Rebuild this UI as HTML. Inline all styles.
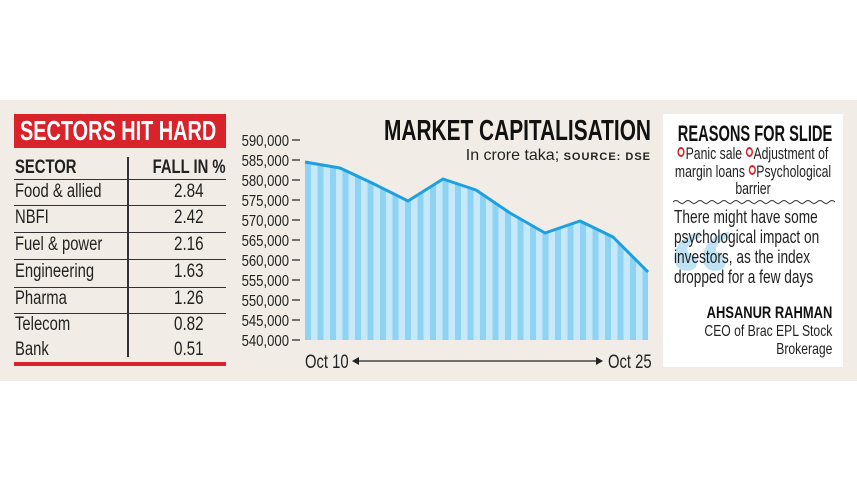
<!DOCTYPE html>
<html><head><meta charset="utf-8"><style>
body{margin:0;width:857px;height:482px;background:#fff;position:relative;overflow:hidden;font-family:"Liberation Sans",sans-serif;}
.a{position:absolute;white-space:nowrap;}
.c{transform:scaleX(.78);transform-origin:0 0;}
.cr{transform:scaleX(.78);transform-origin:100% 0;}
.row{position:absolute;left:14px;width:212px;height:26px;border-top:1.5px solid #333;font-size:19px;color:#222;}
.n{position:absolute;left:160px;top:1px;transform:scaleX(.8);transform-origin:0 0}
.o{display:inline-block;width:6px;height:6px;border:2px solid #d8232a;border-radius:50%;vertical-align:2px;margin-right:1px}
</style></head><body>
<div class="a" style="left:0;top:100px;width:857px;height:281px;background:#f1ede6"></div>
<div class="a" style="left:14px;top:114px;width:212px;height:34px;background:#d8232a"></div>
<div class="a c" style="left:20px;top:114px;font-size:28px;font-weight:bold;color:#fff;line-height:34px;transform:scaleX(.71)">SECTORS HIT HARD</div>
<div class="a c" style="left:15px;top:157px;font-size:19px;font-weight:bold;color:#222">SECTOR</div>
<div class="a cr" style="right:631px;top:157px;font-size:19px;font-weight:bold;color:#222">FALL IN %</div>
<div class="a" style="left:127px;top:157px;width:1.5px;height:200px;background:#333"></div>
<div class="row" style="top:179px"><span class="a c" style="left:1px;top:1px">Food &amp; allied</span><span class="n">2.84</span></div>
<div class="row" style="top:205px"><span class="a c" style="left:1px;top:1px">NBFI</span><span class="n">2.42</span></div>
<div class="row" style="top:232px"><span class="a c" style="left:1px;top:1px">Fuel &amp; power</span><span class="n">2.16</span></div>
<div class="row" style="top:259px"><span class="a c" style="left:1px;top:1px">Engineering</span><span class="n">1.63</span></div>
<div class="row" style="top:287px"><span class="a c" style="left:1px;top:0px">Pharma</span><span class="n" style="top:0">1.26</span></div>
<div class="row" style="top:313px"><span class="a c" style="left:1px;top:0px">Telecom</span><span class="n" style="top:0">0.82</span></div>
<div class="row" style="top:339px;border-top:none"><span class="a c" style="left:1px;top:0px">Bank</span><span class="n" style="top:0">0.51</span></div>
<div class="a" style="left:14px;top:362px;width:212px;height:4px;background:#d8232a"></div>

<svg class="a" style="left:0;top:0" width="857" height="482">
<defs><pattern id="st" width="12.5" height="10" patternUnits="userSpaceOnUse" x="305"><rect width="6" height="10" fill="#8fd3f4"/><rect x="6" width="6.5" height="10" fill="#c6e8f8"/></pattern></defs>
<polygon points="305,162 340,168 372,183 408,201 443,179 476,190 510,213 545,233 580,221 613,237 648,272 648,340 305,340" fill="url(#st)"/>
<polyline points="305,162 340,168 372,183 408,201 443,179 476,190 510,213 545,233 580,221 613,237 648,272" fill="none" stroke="#1ea0e0" stroke-width="3" stroke-linejoin="round"/>
<g stroke="#222" stroke-width="1.2">
<line x1="292" x2="300" y1="140" y2="140"/><line x1="292" x2="300" y1="160" y2="160"/><line x1="292" x2="300" y1="180" y2="180"/><line x1="292" x2="300" y1="200" y2="200"/><line x1="292" x2="300" y1="220" y2="220"/><line x1="292" x2="300" y1="240" y2="240"/><line x1="292" x2="300" y1="260" y2="260"/><line x1="292" x2="300" y1="280" y2="280"/><line x1="292" x2="300" y1="300" y2="300"/><line x1="292" x2="300" y1="320" y2="320"/><line x1="292" x2="300" y1="340" y2="340"/>
<line x1="356" x2="598" y1="361" y2="361"/></g>
<polygon points="352,361 359,357 359,365" fill="#222"/><polygon points="603,361 596,357 596,365" fill="#222"/>
<g font-size="16" fill="#222" text-anchor="end" font-family="Liberation Sans" transform="translate(289,0) scale(.82,1)">
<text x="0" y="146">590,000</text><text x="0" y="166">585,000</text><text x="0" y="186">580,000</text><text x="0" y="206">575,000</text><text x="0" y="226">570,000</text><text x="0" y="246">565,000</text><text x="0" y="266">560,000</text><text x="0" y="286">555,000</text><text x="0" y="306">550,000</text><text x="0" y="326">545,000</text><text x="0" y="346">540,000</text></g>
<text x="0" y="0" font-size="19" fill="#222" transform="translate(305,368) scale(.78,1)">Oct 10</text>
<text x="0" y="0" font-size="19" fill="#222" transform="translate(608,368) scale(.78,1)">Oct 25</text>
<text x="0" y="0" font-size="29" font-weight="bold" fill="#111" text-anchor="end" transform="translate(651,140) scale(.72,1)">MARKET CAPITALISATION</text>
<text x="0" y="0" font-size="16" fill="#222" text-anchor="end" transform="translate(651,160)"><tspan transform="scale(.8,1)">In crore taka; </tspan><tspan font-size="11" font-weight="bold" letter-spacing="1">SOURCE: DSE</tspan></text>
</svg>

<div class="a" style="left:663px;top:114px;width:180px;height:253px;background:#fff"></div>
<div class="a cr" style="right:25px;top:121px;font-size:22px;font-weight:bold;color:#111;transform:scaleX(.665)">REASONS FOR SLIDE</div>
<div class="a" style="left:674px;top:145px;width:158px;font-size:17px;color:#222;line-height:17.5px;text-align:center;white-space:normal">
<div style="transform:scaleX(.72);transform-origin:50% 0;width:224px;margin-left:-33px"><span class="o"></span>Panic sale <span class="o"></span>Adjustment of<br>margin loans <span class="o"></span>Psychological<br>barrier</div></div>
<svg class="a" style="left:673px;top:198px" width="162" height="8"><path d="M0,4 q3,-3 6,0 t6,0 t6,0 t6,0 t6,0 t6,0 t6,0 t6,0 t6,0 t6,0 t6,0 t6,0 t6,0 t6,0 t6,0 t6,0 t6,0 t6,0 t6,0 t6,0 t6,0 t6,0 t6,0 t6,0 t6,0 t6,0 t6,0" fill="none" stroke="#333" stroke-width="1"/></svg>
<div class="a" style="left:668px;top:210px;font-size:130px;color:#bfe3f5;font-family:'Liberation Serif',serif;line-height:130px;font-weight:bold">“</div>
<div class="a c" style="left:674px;top:207px;font-size:18px;line-height:20px;color:#222;transform:scaleX(.76)">There might have some<br>psychological impact on<br>investors, as the index<br>dropped for a few days</div>
<div class="a cr" style="right:25px;top:303px;font-size:17px;font-weight:bold;color:#111;transform:scaleX(.76)">AHSANUR RAHMAN</div>
<div class="a cr" style="right:25px;top:323px;font-size:16px;line-height:18px;color:#222;text-align:right;transform:scaleX(.76)">CEO of Brac EPL Stock<br>Brokerage</div>
</body></html>
